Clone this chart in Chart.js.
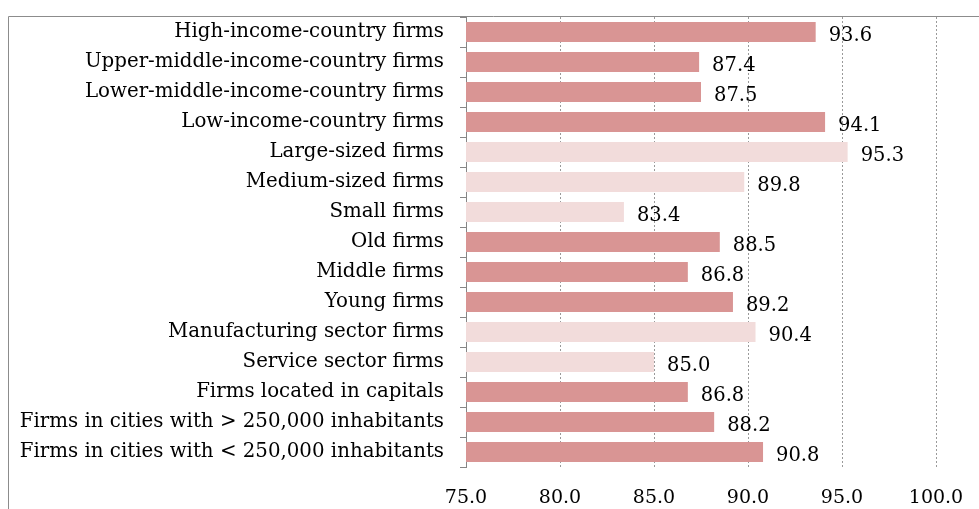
<!DOCTYPE html>
<html>
<head>
<meta charset="utf-8">
<script src="https://cdn.jsdelivr.net/npm/chart.js@4"></script>
<style>
  html, body { margin: 0; padding: 0; background: #fff; }
  #wrap { width: 979px; height: 509px; }
</style>
</head>
<body>
<div id="wrap"><canvas id="chart"></canvas></div>
<script>
// categories, top to bottom
const categories = [
    "High-income-country firms",
    "Upper-middle-income-country firms",
    "Lower-middle-income-country firms",
    "Low-income-country firms",
    "Large-sized firms",
    "Medium-sized firms",
    "Small firms",
    "Old firms",
    "Middle firms",
    "Young firms",
    "Manufacturing sector firms",
    "Service sector firms",
    "Firms located in capitals",
    "Firms in cities with > 250,000 inhabitants",
    "Firms in cities with < 250,000 inhabitants"
];
const values = [93.6, 87.4, 87.5, 94.1, 95.3, 89.8, 83.4, 88.5, 86.8, 89.2, 90.4, 85.0, 86.8, 88.2, 90.8];
const groups = ["income", "income", "income", "income", "size", "size", "size",
    "age", "age", "age", "sector", "sector", "location", "location", "location"];
const xTicks = [75, 80, 85, 90, 95, 100];

const FONT = "'DejaVu Serif', serif";
const groupNames = [...new Set(groups)];
const barColors = groups.map(g => groupNames.indexOf(g) % 2 === 0 ? "#D99594" : "#F2DCDB");

// gray frame around the picture
const framePlugin = {
    id: "frame",
    beforeDraw(chart) {
        const ctx = chart.ctx;
        ctx.save();
        ctx.strokeStyle = "#8c8c8c";
        ctx.lineWidth = 1;
        ctx.beginPath();
        ctx.moveTo(8.5, chart.height);
        ctx.lineTo(8.5, 16.5);
        ctx.lineTo(chart.width, 16.5);
        ctx.stroke();
        ctx.restore();
    }
};

// value labels to the right of each bar
const valueLabels = {
    id: "valueLabels",
    afterDatasetsDraw(chart) {
        const ctx = chart.ctx;
        const meta = chart.getDatasetMeta(0);
        ctx.save();
        ctx.font = "19.5px " + FONT;
        ctx.fillStyle = "#000";
        ctx.textAlign = "left";
        ctx.textBaseline = "middle";
        meta.data.forEach((bar, i) => {
            ctx.fillText(values[i].toFixed(1), bar.x + 13, bar.y + 4);
        });
        ctx.restore();
    }
};

new Chart(document.getElementById("chart").getContext("2d"), {
    type: "bar",
    data: {
        labels: categories,
        datasets: [{
            data: values,
            backgroundColor: barColors,
            borderWidth: 0,
            barPercentage: 0.67,
            categoryPercentage: 1
        }]
    },
    options: {
        indexAxis: "y",
        responsive: true,
        maintainAspectRatio: false,
        animation: false,
        layout: { padding: { left: 0, right: 43, top: 17, bottom: 0 } },
        plugins: {
            legend: { display: false },
            tooltip: { enabled: false }
        },
        scales: {
            x: {
                min: xTicks[0],
                max: xTicks[xTicks.length - 1],
                afterBuildTicks: scale => { scale.ticks = xTicks.map(v => ({ value: v })); },
                afterFit: scale => {
                    scale.height = 42;
                    scale.paddingLeft = 0;
                    scale.paddingRight = 0;
                },
                grid: {
                    drawTicks: false,
                    color: ctx => ctx.tick && ctx.tick.value === xTicks[0] ? "rgba(0,0,0,0)" : "#9a9a9a",
                    lineWidth: 1
                },
                border: { display: false, dash: [2, 2] },
                ticks: {
                    padding: 20,
                    color: "#000",
                    font: { family: FONT, size: 19 },
                    callback: v => Number(v).toFixed(1)
                }
            },
            y: {
                afterFit: scale => {
                    scale.width = 466;
                    scale.paddingTop = 0;
                    scale.paddingBottom = 0;
                },
                grid: {
                    drawOnChartArea: false,
                    drawTicks: true,
                    tickLength: 6,
                    tickColor: "#868686"
                },
                border: { display: true, color: "#868686", width: 1 },
                ticks: {
                    padding: 16,
                    color: "#000",
                    font: { family: FONT, size: 19.8 }
                }
            }
        }
    },
    plugins: [framePlugin, valueLabels]
});
</script>
</body>
</html>
